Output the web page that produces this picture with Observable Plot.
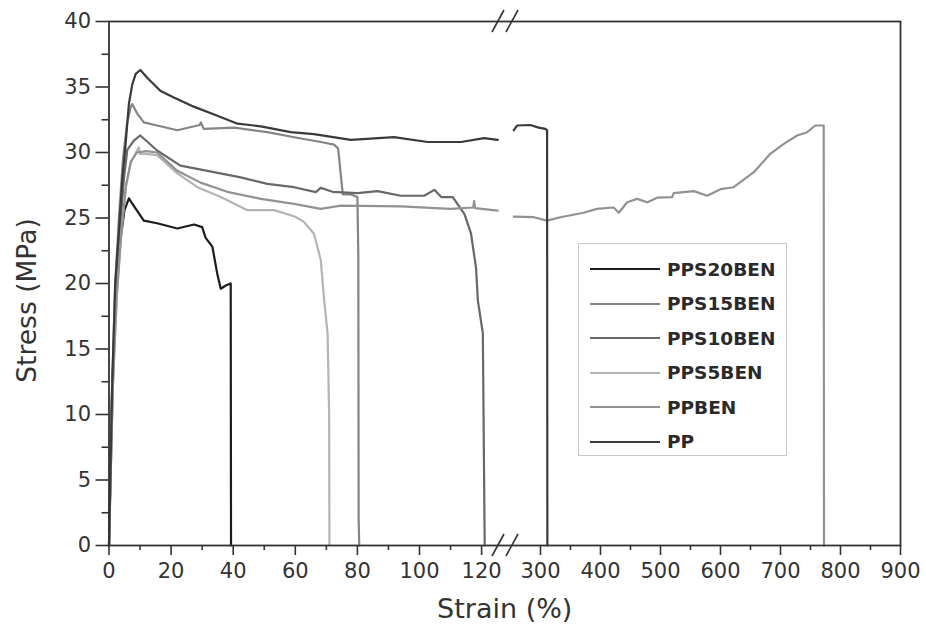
<!DOCTYPE html>
<html>
<head>
<meta charset="utf-8">
<script src="https://cdn.jsdelivr.net/npm/d3@7"></script>
<script src="https://cdn.jsdelivr.net/npm/@observablehq/plot@0.6"></script>
<style>
  html, body { margin: 0; padding: 0; background: #fff; }
  #wrap { position: relative; width: 926px; height: 638px; }
  #legend { position: absolute; left: 578px; top: 243px; width: 209px; height: 213px;
            border: 1px solid #c8c8c8; box-sizing: border-box; background: #fff;
            font-family: "DejaVu Sans", sans-serif; font-weight: bold; font-size: 18.5px; color: #2a2a2a; }
  .row { position: absolute; left: 11px; height: 20px; display: flex; align-items: center; }
  .swatch { width: 70px; height: 0; border-top-style: solid; margin-right: 7px; }
</style>
</head>
<body>
<div id="wrap"><div id="legend"></div></div>
<script>
// ---- data ----
const seriesNames = ["PPS20BEN", "PPS15BEN", "PPS10BEN", "PPS5BEN", "PPBEN", "PP"];
const seriesColors = ["#1c1c1c", "#858585", "#686868", "#b4b4b4", "#929292", "#3a3a3a"];

const pps20Strain = [0, 1, 2.2, 3.5, 5, 6.4, 7.5, 11.2, 15.5, 22, 27.4, 30, 31.1, 33.3, 34.9, 36, 37.6, 39.2, 39.3];
const pps20Stress = [0, 12, 19, 23, 25.6, 26.5, 26.1, 24.8, 24.6, 24.2, 24.5, 24.3, 23.5, 22.8, 20.7, 19.6, 19.85, 20.0, 0];

const pps15Strain = [0, 1, 2, 3.2, 4.5, 5.8, 7, 7.5, 9, 11.2, 15.5, 22, 29.2, 29.6, 30.5, 40.3, 51, 61.8, 68.2, 72.5, 73.8, 75.3, 78, 80, 80.3, 80.4, 80.6];
const pps15Stress = [0, 12, 20, 25, 29.5, 32.2, 33.5, 33.7, 33, 32.3, 32.06, 31.7, 32.1, 32.3, 31.8, 31.9, 31.55, 31.07, 30.8, 30.6, 30.3, 26.8, 26.8, 26.6, 22, 2, 0];

const pps10Strain = [0, 1.2, 2.2, 3.5, 4.8, 5.9, 8, 10.1, 12, 15.5, 23, 33.8, 42.4, 51, 59.6, 66.6, 68.2, 72, 80, 86.5, 94, 101.5, 104.8, 107, 110.7, 114.5, 116.6, 118.2, 118.8, 120.4, 121];
const pps10Stress = [0, 12, 19, 24, 28, 30.2, 30.9, 31.3, 30.9, 30.15, 29.0, 28.5, 28.1, 27.6, 27.35, 26.97, 27.3, 27.0, 26.9, 27.05, 26.7, 26.7, 27.15, 26.6, 26.6, 25.3, 23.8, 21.2, 18.7, 16.2, 0];

const pps5Strain = [0, 1.2, 2.5, 4, 5.5, 7, 8.5, 9.6, 10, 12, 15.5, 22, 28.5, 36, 44.6, 53.2, 60, 62.8, 66, 68.2, 69.3, 70.4, 70.9, 71];
const pps5Stress = [0, 12, 19, 24, 27.5, 29.2, 29.9, 30.4, 29.9, 29.9, 29.8, 28.4, 27.35, 26.6, 25.6, 25.6, 25.1, 24.7, 23.8, 21.8, 18.7, 16.2, 10, 0];

const ppbenStrain = [0, 1.2, 2.5, 4, 5.5, 7, 9, 12, 15.5, 22, 29.5, 38.1, 48.9, 59.6, 68.2, 74.7, 94, 110, 117.3, 117.6, 117.9, 125.2,
  null,
  255.5, 289, 311, 333, 372, 394, 422, 430.5, 444.5, 461, 478, 494.5, 519.5, 522, 555.5, 578, 600, 622, 655.5, 683, 705.5, 727.8, 744.5, 758, 772, 772.5];
const ppbenStress = [0, 12, 19, 24, 27.5, 29.3, 30, 30.1, 30, 28.6, 27.7, 27.0, 26.46, 26.08, 25.7, 25.95, 25.88, 25.7, 25.8, 26.3, 25.75, 25.57,
  null,
  25.1, 25.06, 24.8, 25.06, 25.4, 25.7, 25.8, 25.4, 26.2, 26.46, 26.2, 26.55, 26.6, 26.9, 27.05, 26.7, 27.2, 27.35, 28.5, 29.9, 30.66, 31.3, 31.55, 32.06, 32.06, 0];

const ppStrain = [0, 1, 2, 3.2, 4.3, 5.3, 6.4, 7.5, 8.6, 10.1, 12.3, 16.6, 20.9, 27.3, 34.9, 41.4, 48.9, 58.5, 66, 77.9, 91.8, 102.6, 113.4, 120.8, 125.2,
  null,
  255.5, 261, 283, 297, 308, 311, 311.5];
const ppStress = [0, 12, 20, 24, 28, 30.5, 33.7, 35.2, 36, 36.3, 35.7, 34.7, 34.2, 33.5, 32.8, 32.2, 32.0, 31.55, 31.4, 30.97, 31.17, 30.8, 30.8, 31.1, 30.97,
  null,
  31.7, 32.06, 32.1, 31.9, 31.8, 31.7, 0];

const xMajorTicks = [0, 20, 40, 60, 80, 100, 120, 300, 400, 500, 600, 700, 800, 900];
const xMinorTicks = [10, 30, 50, 70, 90, 110, 350, 450, 550, 650, 750, 850];
const yMajorTicks = [0, 5, 10, 15, 20, 25, 30, 35, 40];
const yMinorTicks = [2.5, 7.5, 12.5, 17.5, 22.5, 27.5, 32.5, 37.5];
const breakLow = 127.7, breakHigh = 241.7;   // axis break between the two x segments

// ---- build table ----
const strains = [pps20Strain, pps15Strain, pps10Strain, pps5Strain, ppbenStrain, ppStrain];
const stresses = [pps20Stress, pps15Stress, pps10Stress, pps5Stress, ppbenStress, ppStress];
const rows = [];
seriesNames.forEach((name, i) => {
  strains[i].forEach((s, j) => rows.push({series: name, strain: s, stress: stresses[i][j]}));
});

const font = "DejaVu Sans, sans-serif";
const ink = "#333";

function breakMarks(index, scales) {
  const g = d3.create("svg:g").attr("stroke", ink).attr("stroke-width", 1.6).attr("fill", "none");
  const bx = scales.x(breakLow);
  for (const yv of [0, 40]) {
    const by = scales.y(yv);
    for (const off of [-7, 7]) {
      g.append("line")
        .attr("x1", bx + off - 6).attr("y1", by + 11)
        .attr("x2", bx + off + 6).attr("y2", by - 11);
    }
  }
  return g.node();
}

const chart = Plot.plot({
  width: 926,
  height: 638,
  marginLeft: 108.5,
  marginRight: 26,
  marginTop: 21,
  marginBottom: 93,
  style: {background: "transparent", fontFamily: font},
  x: {type: "linear", domain: [0, breakLow, breakHigh, 900], range: [108.5, 505, 505, 900]},
  y: {domain: [0, 40], range: [545, 21]},
  color: {domain: seriesNames, range: seriesColors},
  marks: [
    Plot.line(rows, {x: "strain", y: "stress", z: "series", stroke: "series", strokeWidth: 2.2, curve: "linear"}),
    Plot.frame({stroke: ink, strokeWidth: 1.8}),
    Plot.axisX(xMajorTicks, {tickSize: 10, tickPadding: 8, fontSize: 21, fontFamily: font, fill: ink, stroke: ink, strokeWidth: 1.6, label: null}),
    Plot.axisX(xMinorTicks, {tickSize: 5, tickFormat: () => "", stroke: ink, strokeWidth: 1.6, label: null}),
    Plot.axisY(yMajorTicks, {tickSize: 13, tickPadding: 5, fontSize: 21, fontFamily: font, fill: ink, stroke: ink, strokeWidth: 1.6, label: null}),
    Plot.axisY(yMinorTicks, {tickSize: 7, tickFormat: () => "", stroke: ink, strokeWidth: 1.6, label: null}),
    breakMarks,
    Plot.text(["Stress (MPa)"], {frameAnchor: "left", textAnchor: "middle", rotate: -90, dx: -81, dy: 17, fontSize: 26.5, fontFamily: font, fill: ink}),
    Plot.text(["Strain (%)"], {frameAnchor: "bottom", textAnchor: "middle", dy: 72, fontSize: 27, fontFamily: font, fill: ink})
  ]
});
document.getElementById("wrap").prepend(chart);

// ---- legend (HTML, inside the plot area) ----
const legend = document.getElementById("legend");
seriesNames.forEach((name, i) => {
  const row = document.createElement("div");
  row.className = "row";
  row.style.top = (15 + i * 34.5) + "px";
  const sw = document.createElement("span");
  sw.className = "swatch";
  sw.style.borderTopColor = seriesColors[i];
  sw.style.borderTopWidth = (i === 0 || i === 5) ? "2.5px" : "2px";
  const label = document.createElement("span");
  label.textContent = name;
  row.append(sw, label);
  legend.append(row);
});
</script>
</body>
</html>
